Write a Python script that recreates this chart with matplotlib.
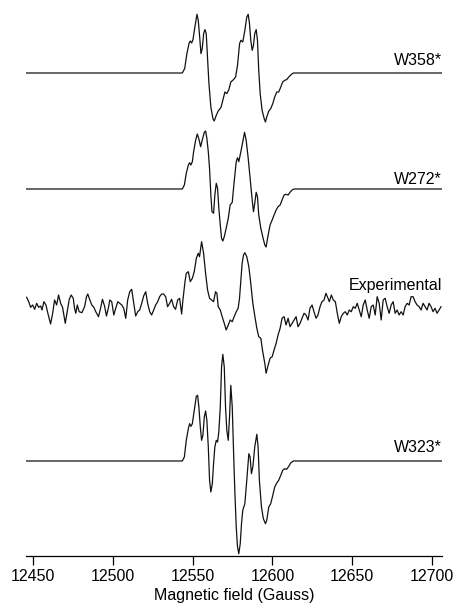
import numpy as np
import matplotlib
matplotlib.use('Agg')
import matplotlib.pyplot as plt

plt.rcParams['font.family'] = ['Liberation Sans', 'DejaVu Sans']

LINE = '#111111'

# fields in Gauss, intensities in arbitrary units (relative to each baseline)
w358_field = [12445.6, 12543.5, 12545.0, 12546.4, 12547.7, 12548.5, 12549.4, 12550.2, 12551.4,
              12552.7, 12553.5, 12554.4, 12555.2, 12556.0, 12556.9, 12557.7, 12558.5, 12559.4,
              12560.2, 12561.4, 12562.7, 12563.5, 12564.8, 12566.0, 12567.7, 12568.9, 12570.2,
              12571.4, 12572.7, 12573.9, 12575.6, 12576.9, 12578.1, 12579.4, 12580.2, 12581.4,
              12582.7, 12583.9, 12584.8, 12585.6, 12586.4, 12587.3, 12588.1, 12588.9, 12589.8,
              12590.6, 12591.4, 12592.3, 12593.5, 12594.8, 12595.6, 12596.4, 12597.7, 12598.9,
              12600.2, 12601.4, 12602.7, 12603.9, 12605.2, 12606.4, 12607.7, 12608.9, 12610.2,
              12611.9, 12613.1, 12706.2]
w358_int = [0, 0, 4.4, 19.4, 29.4, 32, 30, 33.4, 46,
            58.7, 52.7, 36, 19.4, 24.4, 39.4, 43.4, 39.4, 12.7,
            -10.6, -34, -45.6, -48, -42.3, -38, -34.6, -27.3, -19,
            -20.6, -16.6, -9, -6.6, -4, 7.7, 29.4, 32.7, 31,
            42.7, 56, 58.7, 49.4, 32.7, 22.7, 27.7, 39.4, 43.4,
            32.7, 2.7, -20.6, -37.3, -45.6, -49, -44, -38, -35.6,
            -30.6, -24, -19, -19, -14, -9, -7.3, -6.6, -4,
            -1.3, 0, 0]

w272_field = [12445.6, 12543.5, 12544.8, 12546.0, 12547.3, 12548.1, 12548.9, 12549.8, 12550.6,
              12551.9, 12552.9, 12553.9, 12555.0, 12556.0, 12557.3, 12558.1, 12558.9, 12559.8,
              12560.6, 12561.4, 12562.1, 12563.1, 12563.9, 12564.8, 12565.6, 12566.4, 12567.3,
              12568.1, 12568.9, 12569.8, 12571.0, 12572.3, 12573.5, 12574.8, 12576.0, 12577.3,
              12578.1, 12578.9, 12580.2, 12581.4, 12582.5, 12583.5, 12584.8, 12586.0, 12587.3,
              12588.1, 12588.9, 12589.8, 12590.6, 12591.4, 12592.7, 12593.9, 12595.2, 12596.0,
              12597.3, 12598.5, 12599.8, 12601.0, 12602.3, 12603.5, 12604.8, 12606.0, 12607.3,
              12608.5, 12609.8, 12611.0, 12612.3, 12613.5, 12706.2]
w272_int = [0, 0, 4, 15.7, 24, 26.3, 24, 27.3, 37.3,
            49, 55, 50, 42.3, 49, 56.7, 58, 50.7, 37.3,
            20, -6, -22.7, -24.3, -6, 5.7, 0.7, -19.3, -36,
            -49.3, -52, -47.7, -39.3, -29.3, -16, -13.3, 7.3, 27.3,
            31.3, 27.3, 37.3, 47.3, 56.7, 49, 30.7, 10.7, -11,
            -22.7, -14.3, -3.3, -7.7, -26, -39.3, -47.7, -56, -58,
            -46, -36, -31, -26, -21, -17.7, -16, -11, -6,
            -5.3, -6, -3.3, -1, 0, 0]

exp_field = [12446.0, 12447.3, 12448.5, 12449.8, 12451.0, 12452.3, 12453.5, 12454.8, 12455.6,
             12456.8, 12458.1, 12459.3, 12461.0, 12462.3, 12463.5, 12464.8, 12466.0, 12467.3,
             12468.5, 12470.2, 12471.4, 12472.7, 12473.9, 12475.2, 12476.0, 12476.8, 12477.7,
             12478.9, 12480.6, 12482.3, 12483.5, 12484.3, 12485.6, 12486.8, 12488.1, 12489.3,
             12491.0, 12492.3, 12493.5, 12494.8, 12496.0, 12497.3, 12498.1, 12499.3, 12500.6,
             12501.8, 12503.1, 12504.3, 12505.6, 12506.8, 12508.1, 12509.3, 12510.6, 12511.8,
             12513.1, 12514.3, 12515.6, 12516.8, 12518.1, 12519.3, 12520.6, 12521.8, 12523.1,
             12524.3, 12525.6, 12526.8, 12528.1, 12529.3, 12530.6, 12531.8, 12533.1, 12534.3,
             12535.6, 12536.8, 12538.1, 12539.3, 12540.6, 12541.8, 12543.1, 12543.9, 12545.2,
             12546.0, 12547.3, 12548.5, 12549.8, 12551.0, 12552.3, 12553.5, 12554.3, 12555.6,
             12556.85, 12558.1, 12559.35, 12560.6, 12561.85, 12563.1, 12564.35, 12565.2, 12566.0,
             12567.3, 12568.5, 12569.8, 12571.0, 12572.3, 12573.5, 12574.8, 12576.0, 12577.3,
             12578.5, 12579.35, 12580.2, 12581.0, 12581.85, 12582.7, 12583.9, 12585.2, 12586.4,
             12587.7, 12589.0, 12590.2, 12591.4, 12592.7, 12593.9, 12595.2, 12596.0, 12597.3,
             12598.5, 12599.8, 12601.0, 12602.3, 12603.5, 12604.8, 12606.0, 12607.3, 12608.5,
             12609.8, 12611.0, 12612.3, 12613.5, 12614.8, 12616.0, 12617.3, 12618.5, 12619.8,
             12621.0, 12622.3, 12623.5, 12624.8, 12626.0, 12627.3, 12628.5, 12629.8, 12631.0,
             12632.3, 12633.5, 12634.8, 12635.6, 12636.9, 12638.1, 12639.4, 12640.6, 12641.85,
             12643.1, 12644.35, 12645.6, 12646.85, 12648.1, 12649.35, 12650.6, 12651.85, 12653.1,
             12654.35, 12655.6, 12656.85, 12658.1, 12659.35, 12660.6, 12661.85, 12663.1, 12664.35,
             12665.6, 12666.85, 12668.1, 12669.35, 12670.6, 12671.85, 12673.1, 12674.35, 12675.6,
             12676.85, 12678.1, 12679.35, 12680.6, 12681.85, 12683.1, 12684.35, 12685.6, 12686.85,
             12688.1, 12689.35, 12690.6, 12691.85, 12693.1, 12694.35, 12695.6, 12696.85, 12698.1,
             12699.35, 12700.6, 12701.85, 12703.1, 12704.35, 12705.6]
exp_int = [10.7, 6.3, 0.7, 3, -1.3, 4.7, 0.7, 2, -2,
           6.3, 3, -5.3, -16, -5.3, 8, 3, 13, 4.7,
           0.7, -15.3, -3.7, 8.7, 13, 9.7, -0.3, -5.3, 3,
           -3.7, -4.7, 1.3, 11.3, 14, 8, 3, 0.7, -3.7,
           -8.7, -0.3, 8.7, 2, -8, 0.7, 8, 6.3, -7,
           -0.3, 6.3, 4.7, 3, -0.3, -10.3, 8, 16.3, 18.7,
           4.7, -8, -3.7, -2, 4.7, 12, 16.3, 4.7, -3.7,
           -7, -2, 3, 6.3, 11.3, 14, 14, 11.3, 1.3,
           4.7, 8.7, 1.3, -1.3, 8, 9.7, -6, 8, 26.3,
           34.7, 36.3, 26.3, 29.7, 36.3, 49.7, 54.7, 51.3, 66.3,
           54.7, 34.7, 18, 9.7, 8, 6.3, 16.3, 14.7, 1.3,
           -2, -8.7, -15.3, -22, -17, -12, -13.7, -8.7, -3.7,
           -0.3, 9.7, 28, 44.7, 53, 55.3, 51.3, 41.3, 24.7,
           4.7, -8.7, -20.3, -28.7, -30.3, -43.7, -55.3, -65.3, -57,
           -50.3, -48.7, -42, -35.3, -27, -20.3, -10.3, -8.7, -17,
           -10.3, -18.7, -15.3, -12, -8.7, -18.7, -15.3, -10.3, -5.3,
           -7, -12, -0.3, 3, -3.7, -10.3, -7, 1.3, 6.3,
           8, 14.7, 9.7, 6.3, 13, 8, 6.3, -5.3, -15.3,
           -8.7, -5.3, -3.7, -7, -2, -3.7, 1.3, -0.3, 4.7,
           -2, -8.7, 3, 8, -2, -10.3, 1.3, 3, -7,
           11.3, 4.7, -12, 8, 9.7, 1.3, -5.3, 3, 6.3,
           -5.3, -2, -7, -3.7, -7, 1.3, 4.7, 3, 11.3,
           11.3, 6.3, 3, 1.3, -2, 4.7, 1.3, -2, 4.7,
           1.3, -3.7, -0.3, -5.3, -2, 1.3]

w323_field = [12445.6, 12543.5, 12544.8, 12546.0, 12547.3, 12548.1, 12548.9, 12549.8, 12551.0,
              12552.3, 12553.1, 12553.9, 12554.8, 12555.6, 12556.4, 12557.3, 12558.1, 12558.9,
              12559.8, 12560.6, 12561.4, 12562.3, 12563.1, 12563.9, 12564.8, 12565.6, 12566.4,
              12567.3, 12568.1, 12568.9, 12569.8, 12570.6, 12571.4, 12572.3, 12573.1, 12573.9,
              12574.8, 12575.6, 12576.4, 12577.3, 12578.1, 12578.9, 12579.8, 12580.6, 12581.4,
              12582.7, 12583.9, 12585.2, 12586.0, 12586.8, 12587.7, 12588.9, 12590.2, 12591.0,
              12591.8, 12593.1, 12594.3, 12595.6, 12596.4, 12597.7, 12598.9, 12600.2, 12601.4,
              12602.7, 12603.9, 12605.2, 12606.4, 12607.7, 12608.9, 12610.2, 12611.4, 12613.1,
              12706.2]
w323_int = [0, 0, 4, 20.7, 32.3, 37.3, 34.7, 37.3, 50.7,
            64.7, 65.7, 54, 34, 20.7, 25.7, 44, 50, 40.7,
            14, -19.3, -31, -22.7, -2.7, 14, 20.7, 19, 29.3,
            54, 94, 106.7, 94, 54, 30.7, 20.7, 44, 75.7,
            54, 10.7, -29.3, -66, -86, -92.7, -82.7, -62.7, -49.3,
            -42.7, -19.3, 7.3, 4, -12.7, -6, 14, 26.7, 14,
            -19.3, -46, -57.7, -62.7, -59.3, -46, -42.7, -34.3, -26,
            -22, -19.3, -14.3, -9.3, -7.7, -8.3, -5.3, -2, 0,
            0]

spectra = [
    ('W358*', w358_field, w358_int, 483, 8),
    ('W272*', w272_field, w272_int, 367, 5),
    ('Experimental', exp_field, exp_int, 248, 18),
    ('W323*', w323_field, w323_int, 95, 9),
]

fig = plt.figure(figsize=(4.58, 6.10), dpi=100)
ax = fig.add_axes([26 / 458, 54 / 610, 416 / 458, 556 / 610])

for name, field, inten, offset, lift in spectra:
    ax.plot(field, np.array(inten) + offset, color=LINE, lw=0.9)
    ax.text(12706.2, offset + lift, name, ha='right', va='baseline', fontsize=11.5)

ax.set_xlim(12445.6, 12706.2)
ax.set_ylim(0, 556)
ax.set_xticks([12450, 12500, 12550, 12600, 12650, 12700])
ax.set_yticks([])
for side in ['top', 'right', 'left']:
    ax.spines[side].set_visible(False)
ax.spines['bottom'].set_linewidth(0.9)
ax.tick_params(axis='x', direction='out', length=6.5, width=0.9, pad=3, labelsize=11.5)
ax.set_xlabel('Magnetic field (Gauss)', fontsize=11.5, labelpad=3)

fig.savefig('out.png', dpi=100)
